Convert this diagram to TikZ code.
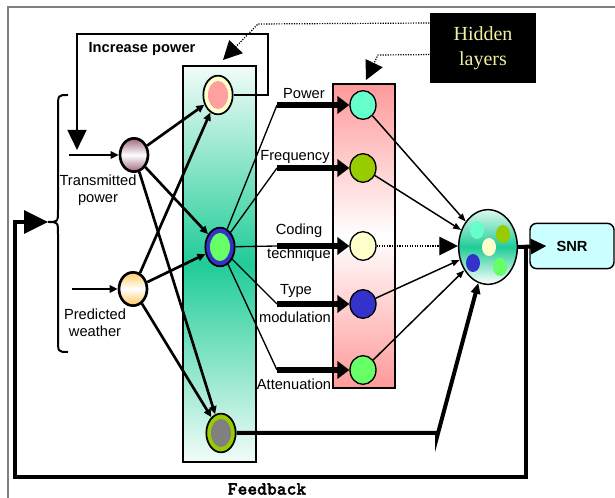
\documentclass[tikz,border=0pt]{standalone}
\usepackage{fontspec}
\setmainfont{Liberation Sans}
\newfontfamily\serifface{Liberation Serif}
\newfontfamily\feedface[FakeBold=1.5]{lmmonolt10-bold.otf}
\usetikzlibrary{arrows.meta,shapes.geometric}

\definecolor{teallayer}{RGB}{32,204,152}
\definecolor{pinklayer}{RGB}{255,153,153}
\definecolor{mauve}{RGB}{158,102,128}
\definecolor{amber}{RGB}{255,204,102}
\definecolor{aqua}{RGB}{102,255,204}
\definecolor{leaf}{RGB}{153,204,0}
\definecolor{cream}{RGB}{255,255,204}
\definecolor{indigo}{RGB}{51,51,204}
\definecolor{mint}{RGB}{102,255,102}
\definecolor{salmon}{RGB}{255,159,159}
\definecolor{skyfill}{RGB}{204,255,255}
\definecolor{paleyellow}{RGB}{240,240,160}

\begin{document}
\begin{tikzpicture}[x=0.75pt,y=-0.75pt,
  font=\fontsize{11}{13}\selectfont,
  inode/.style={draw, ellipse, line width=2pt, minimum width=21pt, minimum height=25pt, inner sep=0pt},
  ring/.style={draw, ellipse, line width=1.3pt, minimum width=22pt, minimum height=29pt, inner sep=0pt},
  core/.style={ellipse, minimum width=15pt, minimum height=21pt, inner sep=0pt},
  hnode/.style={draw, ellipse, line width=1pt, minimum width=19.5pt, minimum height=21.5pt, inner sep=0pt},
  dot/.style={ellipse, minimum width=10.5pt, minimum height=13.5pt, inner sep=0pt},
  feed/.style={-{Triangle[length=6pt,width=5.5pt]}, line width=2pt},
  spoke/.style={line width=1pt},
  bar/.style={line width=4pt, -{Triangle[length=9pt,width=13pt]}},
  toout/.style={line width=1.1pt, -{Triangle[length=6pt,width=4.5pt]}},
  hint/.style={densely dotted, line width=0.9pt, -{Triangle[length=14pt,width=14pt]}}]
\useasboundingbox (0,0) rectangle (615,498);

% frame
\draw[gray, line width=1pt] (8,498) -- (8,7) -- (615,7);

% layer columns
\draw[line width=0.8pt, top color=white!94!teallayer, bottom color=white!94!teallayer, middle color=teallayer] (183,66) rectangle (256,462);
\draw[line width=0.8pt, top color=pinklayer, bottom color=pinklayer, middle color=white] (333,84) rectangle (395,388);

% inputs
\node[inode, top color=mauve, bottom color=mauve, middle color=white] (tn) at (134,155) {};
\node[inode, top color=amber, bottom color=amber!90!orange, middle color=white] (pn) at (133,289) {};
\coordinate (tin) at (69,155);
\coordinate (pin) at (72,289);
\draw[feed] (tin) -- (tn);
\draw[feed] (pin) -- (pn);
\node[align=center] (tlabel) at (98,190) {Transmitted\\power};
\node[align=center] (plabel) at (95,323) {Predicted\\weather};

% first layer
\node[ring, fill=cream] (topn) at (218,95) {};
\node[core, fill=salmon] (topc) at (218,95) {};
\node[ring, fill=indigo] (midn) at (220,247) {};
\node[core, fill=mint] (midc) at (220,247) {};
\node[ring, fill=leaf] (botn) at (221,433) {};
\node[core, fill=gray] (botc) at (221,433) {};

\draw[feed] (tn) -- (topn);
\draw[feed] (tn) -- (midn);
\draw[feed] (tn) -- (botn);
\draw[feed] (pn) -- (topn);
\draw[feed] (pn) -- (midn);
\draw[feed] (pn) -- (botn);

% hidden layer
\node[hnode, fill=aqua] (hp) at (363,105) {};
\node[hnode, fill=leaf] (hf) at (363,168) {};
\node[hnode, fill=cream] (hc) at (363,246) {};
\node[hnode, fill=indigo] (ht) at (363,304) {};
\node[hnode, fill=mint] (ha) at (363,370) {};

\coordinate (bpow) at (277,105);
\coordinate (bfreq) at (277,168);
\coordinate (bcod) at (277,246);
\coordinate (btype) at (277,304);
\coordinate (batt) at (277,370);
\draw[spoke] (midn) -- (bpow);
\draw[spoke] (midn) -- (bfreq);
\draw[spoke] (midn) -- (bcod);
\draw[spoke] (midn) -- (btype);
\draw[spoke] (midn) -- (batt);
\draw[bar] (bpow) -- (hp.west);
\draw[bar] (bfreq) -- (hf.west);
\draw[bar] (bcod) -- (hc.west);
\draw[bar] (btype) -- (ht.west);
\draw[bar] (batt) -- (ha.west);

\node (lpow) at (304,94) {Power};
\node (lfreq) at (295,157) {Frequency};
\node (lcod) at (299,231) {Coding};
\node (ltech) at (299,255) {technique};
\node (ltype) at (296,291) {Type};
\node (lmod) at (295,317) {modulation};
\node (latt) at (294,384) {Attenuation};

% output
\node[draw, ellipse, line width=1.1pt, minimum width=44pt, minimum height=56pt, inner sep=0pt,
  top color=white!85!teallayer, bottom color=white, middle color=teallayer] (out) at (488,247) {};
\node[dot, fill=aqua] (od1) at (477,230) {};
\node[dot, fill=leaf] (od2) at (503,234) {};
\node[dot, fill=cream] (od3) at (489,247) {};
\node[dot, fill=indigo] (od4) at (473,263) {};
\node[dot, fill=mint] (od5) at (500,267) {};

\draw[toout] (hp) -- (out);
\draw[toout] (hf) -- (out);
\draw[toout] (ht) -- (out);
\draw[toout] (ha) -- (out);
\draw[hint] (hc.east) -- (hc.east -| out.west);

\coordinate (bcorner) at (437,437);
\draw[line width=3pt, -{Triangle[length=8pt,width=7pt]}] (botn.east) -- (botn.east -| bcorner) -- (bcorner) -- (out);

\node[draw, line width=1.1pt, rounded corners=5pt, fill=skyfill, minimum width=63pt, minimum height=34pt, font=\bfseries\fontsize{11}{13}\selectfont] (snr) at (572,246) {SNR};
\draw[line width=3pt, -{Triangle[length=12pt,width=11pt]}] (out.east) -- ([xshift=13pt]snr.west);

% feedback loop
\coordinate (fbstart) at (526,246);
\coordinate (fbdown) at (526,477);
\coordinate (fbleft) at (15,477);
\coordinate (fbup) at (15,222);
\coordinate (bracetip) at (48,222);
\draw[line width=3pt, -{Triangle[length=18pt,width=17pt]}] (fbstart) -- (fbdown) -- (fbleft) -- (fbup) -- (bracetip);
\node[font=\feedface\fontsize{14}{16}\selectfont] (fblabel) at (267,489) {Feedback};

% brace round the inputs
\draw[line width=1.5pt] (68,95) .. controls (58,95) .. (58,108) -- (58,210) .. controls (58,222) .. (bracetip)
  .. controls (58,222) .. (58,234) -- (58,339) .. controls (58,352) .. (68,352);

% increase power loop
\coordinate (ipr) at (268,34);
\coordinate (ipl) at (77,34);
\coordinate (ipend) at (77,150);
\draw[line width=2pt, -{Triangle[length=15pt,width=14pt]}] (topn.east) -| (ipr) -- (ipl) -- (ipend);
\node[font=\bfseries\fontsize{11}{13}\selectfont] (iplabel) at (142,49) {Increase power};

% hidden layers note
\node[fill=black, text=paleyellow, align=center, minimum width=80pt, minimum height=52pt, font=\serifface\fontsize{15}{19}\selectfont] (hl) at (483,48) {Hidden\\layers};
\coordinate (dla) at (258,24);
\coordinate (dlaend) at (223,60);
\coordinate (dlb) at (378,55);
\coordinate (dlbend) at (366,80);
\draw[hint] (hl.155) -- (dla) -- (dlaend);
\draw[hint] (hl.187) -- (dlb) -- (dlbend);
\end{tikzpicture}
\end{document}
